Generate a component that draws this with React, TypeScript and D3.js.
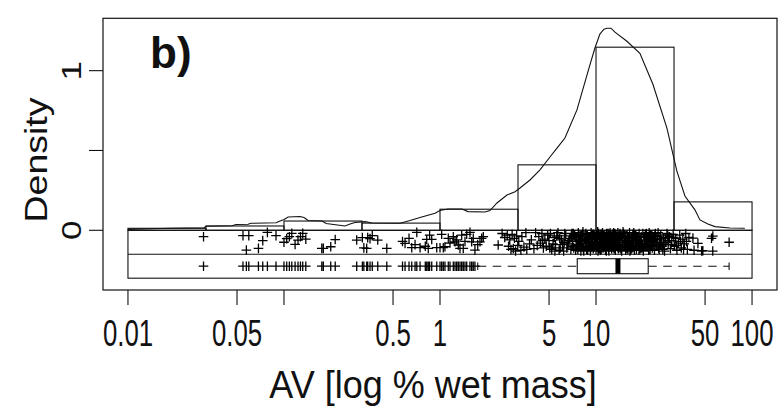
import React from "react";
import * as d3 from "d3";

const xTicks = [0.01, 0.05, 0.1, 0.5, 1, 5, 10, 50, 100];
const xTickLabels = ["0.01", "0.05", "", "0.5", "1", "5", "10", "50", "100"];
const yTicks = [0, 0.5, 1];
const yTickLabels = ["0", "", "1"];

const binEdges = [0.01, 0.03162, 0.1, 0.3162, 1, 3.162, 10, 31.62, 100];
const binDensity = [0.0125, 0.027, 0.058, 0.045, 0.132, 0.41, 1.147, 0.178];

const curveAV = [
  0.01002, 0.01862, 0.03076, 0.03168, 0.04648, 0.04931, 0.05888, 0.06152, 0.08892, 0.09441,
  0.1002, 0.1063, 0.1268, 0.1345, 0.1427, 0.1754, 0.1862, 0.2461, 0.2651, 0.2853,
  0.3307, 0.3664, 0.5541, 0.6425, 0.7447, 0.9289, 1, 1.125, 1.383, 1.511,
  1.942, 2.091, 2.318, 2.687, 3.025, 3.258, 3.773, 4.373, 5.068, 5.702,
  6.32, 7.547, 9.14, 9.84, 10.59, 11.24, 11.75, 12.47, 13.22, 15.78,
  19.11, 23.16, 28.47, 32.98, 37.14, 43.05, 46.35, 52.15, 57.8, 72.1, 89.9,
];
const curveDensity = [
  0.006, 0.0125, 0.0157, 0.025, 0.028, 0.036, 0.0376, 0.0439, 0.047, 0.058,
  0.068, 0.083, 0.086, 0.08, 0.061, 0.058, 0.043, 0.027, 0.039, 0.049,
  0.054, 0.046, 0.044, 0.061, 0.08, 0.107, 0.124, 0.133, 0.133, 0.117,
  0.115, 0.124, 0.171, 0.221, 0.242, 0.265, 0.315, 0.378, 0.459, 0.522,
  0.578, 0.754, 1.036, 1.142, 1.229, 1.26, 1.266, 1.266, 1.241, 1.184,
  1.109, 0.915, 0.64, 0.371, 0.215, 0.128, 0.065, 0.039, 0.023, 0.014, 0.0125,
];

// [AV value, jittered strip position]
const rug: [number, number][] = [
  [0.0305, -0.04], [0.0546, -0.034], [0.0574, -0.124], [0.0595, -0.034], [0.0686, -0.113],
  [0.0731, -0.065], [0.0783, -0.013], [0.0889, -0.034], [0.1, -0.075], [0.1041, -0.052],
  [0.1083, -0.04], [0.1122, -0.019], [0.1178, -0.088], [0.123, -0.061], [0.1275, -0.04],
  [0.1319, -0.019], [0.138, -0.055], [0.1747, -0.113], [0.1788, -0.113], [0.1994, -0.103],
  [0.213, -0.058], [0.2925, -0.061], [0.318, -0.046], [0.325, -0.11], [0.339, -0.113],
  [0.344, -0.046], [0.356, -0.052], [0.368, -0.034], [0.399, -0.061], [0.456, -0.113],
  [0.575, -0.07], [0.597, -0.082], [0.633, -0.05], [0.659, -0.109], [0.692, -0.09],
  [0.71, -0.013], [0.745, -0.109], [0.805, -0.1], [0.822, -0.057], [0.841, -0.113],
  [0.858, -0.03], [0.885, -0.057], [0.953, -0.109], [1.0, -0.109], [1.025, -0.025],
  [1.05, -0.109], [1.076, -0.103], [1.13, -0.05], [1.159, -0.08], [1.217, -0.04],
  [1.248, -0.072], [1.279, -0.06], [1.31, -0.092], [1.343, -0.113], [1.377, -0.03],
  [1.41, -0.113], [1.446, -0.07], [1.483, -0.025], [1.556, -0.013], [1.596, -0.072],
  [1.634, -0.05], [1.675, -0.124], [1.745, -0.09], [1.804, -0.072], [1.849, -0.05],
  [1.895, -0.04],
  [2.36, -0.092], [2.5, -0.02], [2.6, -0.045], [2.7, -0.03], [2.75, -0.1],
  [2.8, -0.06], [2.85, -0.12], [2.9, -0.025], [2.95, -0.115], [3.0, -0.05],
  [3.05, -0.13], [3.1, -0.035], [3.15, -0.095], [3.2, -0.07], [3.3, -0.125],
  [3.45, -0.105], [3.6, -0.12], [3.75, -0.085], [4.1, -0.015], [4.3, -0.04],
  [4.4, -0.08], [4.5, -0.02], [4.6, -0.11], [4.7, -0.055], [4.9, -0.03],
  [5.0, -0.065], [5.2, -0.12], [5.4, -0.045], [5.5, -0.09], [5.7, -0.015],
  [5.9, -0.11], [6.0, -0.06], [6.2, -0.13], [6.4, -0.035], [6.6, -0.085],
  [6.8, -0.05], [6.9, -0.12], [7.0, -0.02],
  [3.35, -0.04], [3.55, -0.015], [3.85, -0.06], [4.0, -0.115], [4.2, -0.095],
  [4.55, -0.065], [4.8, -0.1], [5.1, -0.02], [5.3, -0.085], [5.6, -0.035],
  [5.8, -0.125], [6.1, -0.09], [6.3, -0.02], [6.5, -0.11], [6.7, -0.065],
  [6.95, -0.035], [5.05, -0.11], [5.45, -0.13], [5.85, -0.05], [6.25, -0.075],
  [7.1, -0.07], [7.2, -0.11], [7.3, -0.03], [7.4, -0.125], [7.5, -0.055],
  [7.6, -0.09], [7.7, -0.015], [7.8, -0.1], [7.9, -0.04], [8.0, -0.13],
  [8.1, -0.065], [8.2, -0.025], [8.3, -0.115], [8.4, -0.05], [8.5, -0.085],
  [8.6, -0.02], [8.7, -0.12], [8.8, -0.035], [8.9, -0.075], [9.0, -0.105],
  [9.1, -0.045], [9.2, -0.13], [9.3, -0.015], [9.4, -0.095], [9.5, -0.06],
  [9.6, -0.115], [9.7, -0.03], [9.8, -0.08], [9.9, -0.05], [10.0, -0.12],
  [7.15, -0.02], [7.45, -0.095], [7.75, -0.06], [8.05, -0.035], [8.35, -0.13],
  [8.65, -0.07], [8.95, -0.045], [9.25, -0.11], [9.55, -0.025], [9.85, -0.09],
  [7.05, -0.1], [7.35, -0.045], [7.65, -0.12], [7.95, -0.08], [8.25, -0.01],
  [8.55, -0.105], [8.85, -0.125], [9.15, -0.07], [9.45, -0.035], [9.75, -0.1],
  [10.1, -0.035], [10.2, -0.085], [10.3, -0.13], [10.4, -0.02], [10.5, -0.06],
  [10.6, -0.1], [10.7, -0.045], [10.8, -0.12], [10.9, -0.07], [11.0, -0.015],
  [11.1, -0.11], [11.2, -0.05], [11.3, -0.09], [11.4, -0.03], [11.5, -0.125],
  [11.6, -0.065], [11.7, -0.02], [11.8, -0.1], [11.9, -0.04], [12.0, -0.08],
  [12.1, -0.13], [12.2, -0.055], [12.3, -0.015], [12.4, -0.095], [12.5, -0.035],
  [12.6, -0.115], [12.7, -0.07], [12.8, -0.025], [12.9, -0.105], [13.0, -0.05],
  [13.1, -0.085], [13.2, -0.02], [13.3, -0.125], [13.4, -0.06], [13.5, -0.04],
  [13.6, -0.1], [13.7, -0.075], [13.8, -0.015], [13.9, -0.115], [14.0, -0.045],
  [14.2, -0.09], [14.4, -0.03], [14.6, -0.13], [14.8, -0.065], [15.0, -0.02],
  [15.2, -0.105], [15.4, -0.05], [15.6, -0.085], [15.8, -0.035], [16.0, -0.12],
  [16.2, -0.07], [16.4, -0.015], [16.6, -0.095], [16.8, -0.045], [17.0, -0.11],
  [17.2, -0.025], [17.4, -0.08], [17.6, -0.125], [17.8, -0.055], [18.0, -0.03],
  [18.3, -0.1], [18.6, -0.065], [18.9, -0.02], [19.2, -0.115], [19.5, -0.04],
  [19.8, -0.09], [20.1, -0.13], [20.4, -0.06], [20.7, -0.025], [21.0, -0.105],
  [21.3, -0.045], [21.6, -0.08], [21.9, -0.015], [22.2, -0.12], [22.5, -0.07],
  [22.8, -0.035], [23.1, -0.095], [23.4, -0.05], [23.7, -0.125], [24.0, -0.02],
  [24.4, -0.085], [24.8, -0.04], [25.2, -0.11], [25.6, -0.06], [26.0, -0.03],
  [26.5, -0.1], [27.0, -0.05], [27.5, -0.13], [28.0, -0.075], [28.5, -0.02],
  [29.0, -0.09], [29.5, -0.04], [30.0, -0.115], [30.6, -0.065], [31.2, -0.025],
  [31.8, -0.1], [32.4, -0.05], [33.0, -0.125], [33.7, -0.08], [34.4, -0.03],
  [35.2, -0.11], [36.0, -0.055], [36.8, -0.085], [37.6, -0.02], [38.5, -0.12],
  [39.4, -0.045],
  [10.15, -0.055], [10.45, -0.115], [10.75, -0.025], [11.05, -0.08], [11.35, -0.06],
  [11.65, -0.13], [11.95, -0.02], [12.25, -0.1], [12.55, -0.075], [12.85, -0.04],
  [13.15, -0.11], [13.45, -0.03], [13.75, -0.09], [14.1, -0.055], [14.5, -0.12],
  [14.9, -0.01], [15.3, -0.075], [15.7, -0.11], [16.1, -0.04], [16.5, -0.13],
  [16.9, -0.065], [17.3, -0.1], [17.7, -0.035], [18.15, -0.12], [18.75, -0.085],
  [19.35, -0.06], [19.95, -0.02], [20.55, -0.095], [21.15, -0.07], [21.75, -0.125],
  [22.35, -0.03], [22.95, -0.11], [23.55, -0.075], [24.2, -0.055], [25.0, -0.015],
  [25.8, -0.09], [26.8, -0.12], [27.8, -0.045], [29.2, -0.065], [30.3, -0.09],
  [8.15, -0.1], [8.75, -0.055], [9.35, -0.04], [9.95, -0.075], [10.35, -0.095],
  [10.85, -0.04], [11.25, -0.075], [11.75, -0.045], [12.15, -0.03], [12.65, -0.09],
  [13.05, -0.115], [13.55, -0.08], [14.3, -0.11], [14.7, -0.045], [15.5, -0.125],
  [16.3, -0.09], [17.1, -0.05], [17.9, -0.095], [18.45, -0.045], [19.05, -0.08],
  [19.65, -0.11], [20.25, -0.04], [20.85, -0.07], [21.45, -0.1], [22.05, -0.05],
  [23.0, -0.06], [24.6, -0.1], [26.2, -0.075], [31.5, -0.045], [34.8, -0.07],
  [10.25, -0.01], [10.65, -0.125], [11.15, -0.035], [11.55, -0.085], [12.05, -0.115],
  [12.45, -0.06], [12.95, -0.015], [13.35, -0.095], [13.85, -0.055], [14.25, -0.02],
  [14.85, -0.1], [15.25, -0.035], [15.85, -0.07], [16.35, -0.055], [16.75, -0.12],
  [17.45, -0.015], [18.05, -0.07], [18.85, -0.125], [19.55, -0.08], [20.35, -0.105],
  [21.05, -0.02], [21.85, -0.055], [22.65, -0.09], [23.85, -0.035], [25.4, -0.12],
  [27.2, -0.085], [28.8, -0.03], [32.8, -0.095], [36.4, -0.12], [38.0, -0.07],
  [41.8, -0.049], [42.5, -0.125], [45.0, -0.082], [47.5, -0.13], [48.4, -0.128],
  [55.0, -0.05], [56.1, -0.036], [56.0, -0.13], [71.3, -0.075],
];

// lower whisker, Q1, median, Q3, upper whisker
const boxStats = [1.745, 7.58, 13.82, 21.6, 71.3];

export default function App() {
  const x = d3
    .scaleLog()
    .domain([Math.pow(10, -2.16), Math.pow(10, 2.16)])
    .range([103, 777]);
  const y = d3.scaleLinear().domain([-0.374, 1.328]).range([290, 18.3]);

  const curve = d3
    .line<number>()
    .x((_, i) => x(curveAV[i]))
    .y((d) => y(d));

  const stripTop = 0;
  const stripMid = -0.15;
  const stripBot = -0.3;
  const boxY = -0.225;
  const boxHalf = 0.047;

  const outliers = rug.filter((d) => d[0] < boxStats[0]);
  const font = "'Liberation Sans', Arial, Helvetica, sans-serif";
  const arm = 4.8;
  const plus = (px: number, py: number) =>
    `M${px - arm},${py}h${2 * arm}M${px},${py - arm}v${2 * arm}`;

  return (
    <svg
      width={784}
      height={412}
      style={{ position: "absolute", left: 0, top: 0, background: "#fff" }}
    >
      <rect x={0} y={0} width={784} height={412} fill="#fff" />
      {/* histogram */}
      <g fill="none" stroke="#111" strokeWidth={1.1}>
        {binDensity.map((d, i) => (
          <rect
            key={i}
            x={x(binEdges[i])}
            y={y(d)}
            width={x(binEdges[i + 1]) - x(binEdges[i])}
            height={y(0) - y(d)}
          />
        ))}
      </g>
      {/* density curve */}
      <path d={curve(curveDensity) || ""} fill="none" stroke="#111" strokeWidth={1.1} />
      {/* strip frame */}
      <g fill="none" stroke="#111" strokeWidth={1.1}>
        <rect
          x={x(0.01)}
          y={y(stripTop)}
          width={x(100) - x(0.01)}
          height={y(stripBot) - y(stripTop)}
        />
        <line x1={x(0.01)} x2={x(100)} y1={y(stripMid)} y2={y(stripMid)} />
      </g>
      {/* jittered points */}
      <path
        d={rug.map((d) => plus(x(d[0]), y(d[1]))).join("")}
        fill="none"
        stroke="#000"
        strokeWidth={1.3}
      />
      {/* boxplot */}
      <g fill="none" stroke="#111" strokeWidth={1.1}>
        <line
          x1={x(boxStats[0])}
          x2={x(boxStats[1])}
          y1={y(boxY)}
          y2={y(boxY)}
          strokeDasharray="8.5,6.5"
        />
        <line
          x1={x(boxStats[3])}
          x2={x(boxStats[4])}
          y1={y(boxY)}
          y2={y(boxY)}
          strokeDasharray="8.5,6.5"
        />
        <line
          x1={x(boxStats[0])}
          x2={x(boxStats[0])}
          y1={y(boxY + boxHalf / 2)}
          y2={y(boxY - boxHalf / 2)}
        />
        <line
          x1={x(boxStats[4])}
          x2={x(boxStats[4])}
          y1={y(boxY + boxHalf / 2)}
          y2={y(boxY - boxHalf / 2)}
        />
        <rect
          x={x(boxStats[1])}
          y={y(boxY + boxHalf)}
          width={x(boxStats[3]) - x(boxStats[1])}
          height={y(boxY - boxHalf) - y(boxY + boxHalf)}
          fill="#fff"
        />
        <line
          x1={x(boxStats[2])}
          x2={x(boxStats[2])}
          y1={y(boxY + boxHalf)}
          y2={y(boxY - boxHalf)}
          stroke="#000"
          strokeWidth={5}
        />
      </g>
      <path
        d={outliers.map((d) => plus(x(d[0]), y(boxY))).join("")}
        fill="none"
        stroke="#000"
        strokeWidth={1.3}
      />
      {/* outer box */}
      <rect x={103} y={18.3} width={674} height={271.7} fill="none" stroke="#111" strokeWidth={1.2} />
      {/* x axis */}
      <g stroke="#111" strokeWidth={1.1}>
        {xTicks.map((t) => (
          <line key={t} x1={x(t)} x2={x(t)} y1={290} y2={305} />
        ))}
      </g>
      {xTicks.map((t, i) =>
        xTickLabels[i] ? (
          <text
            key={"xl" + t}
            transform={`translate(${x(t)},346) scale(0.92,1.3)`}
            textAnchor="middle"
            fontFamily={font}
            fontSize={28}
            fill="#111"
          >
            {xTickLabels[i]}
          </text>
        ) : null
      )}
      {/* y axis */}
      <g stroke="#111" strokeWidth={1.1}>
        {yTicks.map((t) => (
          <line key={t} x1={89} x2={103} y1={y(t)} y2={y(t)} />
        ))}
      </g>
      {yTicks.map((t, i) =>
        yTickLabels[i] ? (
          <text
            key={"yl" + t}
            transform={`translate(81,${y(t)}) scale(1,1.25) rotate(-90)`}
            textAnchor="middle"
            fontFamily={font}
            fontSize={28}
            fill="#111"
          >
            {yTickLabels[i]}
          </text>
        ) : null
      )}
      <text
        transform={`translate(47,160) scale(1,1.17) rotate(-90)`}
        textAnchor="middle"
        fontFamily={font}
        fontSize={32}
        fill="#111"
      >
        Density
      </text>
      <text
        transform="translate(433,398) scale(1,1.08)"
        textAnchor="middle"
        fontFamily={font}
        fontSize={36}
        fill="#111"
      >
        AV [log % wet mass]
      </text>
      <text x={150} y={68} fontFamily={font} fontSize={44} fontWeight="bold" fill="#111">
        b)
      </text>
    </svg>
  );
}
